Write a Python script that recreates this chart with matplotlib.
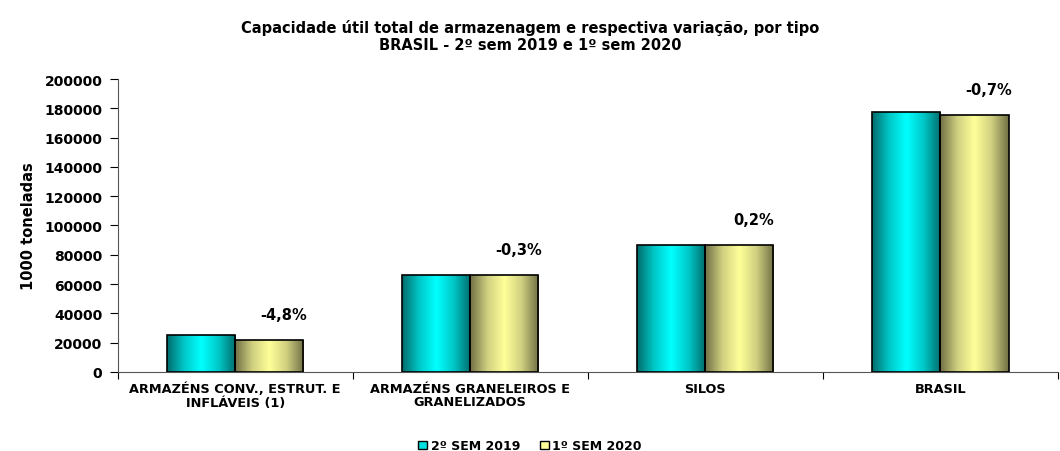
import numpy as np
import matplotlib
matplotlib.use("Agg")
import matplotlib.pyplot as plt
from matplotlib.colors import LinearSegmentedColormap
from matplotlib.patches import Patch

plt.rcParams['font.family'] = ['DejaVu Sans']
plt.rcParams['font.weight'] = 'bold'

categories = ["ARMAZÉNS CONV., ESTRUT. E\nINFLÁVEIS (1)",
              "ARMAZÉNS GRANELEIROS E\nGRANELIZADOS",
              "SILOS",
              "BRASIL"]
sem2_2019 = [25200, 66400, 86700, 177300]
sem1_2020 = [21600, 66300, 86800, 175600]
variacao = ["-4,8%", "-0,3%", "0,2%", "-0,7%"]
series_names = ["2º SEM 2019", "1º SEM 2020"]

teal_cmap = LinearSegmentedColormap.from_list(
    "teal", ["#006b6b", "#00c8c8", "#00ffff", "#00c8c8", "#006b6b"])
yell_cmap = LinearSegmentedColormap.from_list(
    "yell", ["#6f6f45", "#cfcf80", "#ffff99", "#cfcf80", "#6f6f45"])

fig = plt.figure(figsize=(10.6, 4.52), dpi=100)
ax = fig.add_axes([0.111, 0.175, 0.887, 0.648])

x = np.arange(len(categories))
w = 0.29
grad = np.linspace(0, 1, 256).reshape(1, -1)

for vals, offs, cmap in [(sem2_2019, -w / 2, teal_cmap), (sem1_2020, w / 2, yell_cmap)]:
    bars = ax.bar(x + offs, vals, w, facecolor='none', edgecolor='black', linewidth=1.2, zorder=3)
    for b in bars:
        x0, y0 = b.get_x(), b.get_y()
        im = ax.imshow(grad, cmap=cmap, aspect='auto', zorder=2,
                       extent=[x0, x0 + b.get_width(), y0, y0 + b.get_height()])
        im.set_clip_path(b)

for i, lab in enumerate(variacao):
    ax.annotate(lab, (x[i] + w / 2, sem1_2020[i]), xytext=(10, 13), textcoords='offset points',
                ha='center', va='bottom', fontsize=10.5, fontweight='bold')

ax.set_xlim(-0.5, len(categories) - 0.5)
ax.set_ylim(0, 200000)
ax.set_yticks(np.arange(0, 200001, 20000))
ax.tick_params(axis='y', labelsize=10, direction='out', length=6, pad=5)
ax.set_xticks(np.arange(-0.5, len(categories), 1))
ax.set_xticklabels([])
ax.set_xticks(x, minor=True)
ax.set_xticklabels(categories, minor=True, fontsize=9.3, fontweight='bold', linespacing=1.05)
ax.tick_params(axis='x', which='minor', length=0, pad=7)
ax.tick_params(axis='x', which='major', length=5, direction='out')
for lab in ax.get_yticklabels():
    lab.set_fontweight('bold')
ax.spines['top'].set_visible(False)
ax.spines['right'].set_visible(False)
ax.spines['left'].set_color('#555555')
ax.spines['bottom'].set_color('#555555')
ax.set_ylabel("1000 toneladas", fontsize=10.5, fontweight='bold', labelpad=6)

fig.suptitle("Capacidade útil total de armazenagem e respectiva variação, por tipo\n"
             "BRASIL - 2º sem 2019 e 1º sem 2020",
             x=0.5, y=0.955, va='top', fontsize=10.5, fontweight='bold', linespacing=1.15)

handles = [Patch(facecolor="#00e0e0", edgecolor='black'),
           Patch(facecolor="#ffff99", edgecolor='black')]
fig.legend(handles, series_names, loc='lower center', bbox_to_anchor=(0.5, -0.028), ncol=2,
           frameon=False, handlelength=0.7, handleheight=0.7,
           handletextpad=0.3, columnspacing=1.6, prop={'weight': 'bold', 'size': 9})

fig.savefig("out.png", dpi=100)
